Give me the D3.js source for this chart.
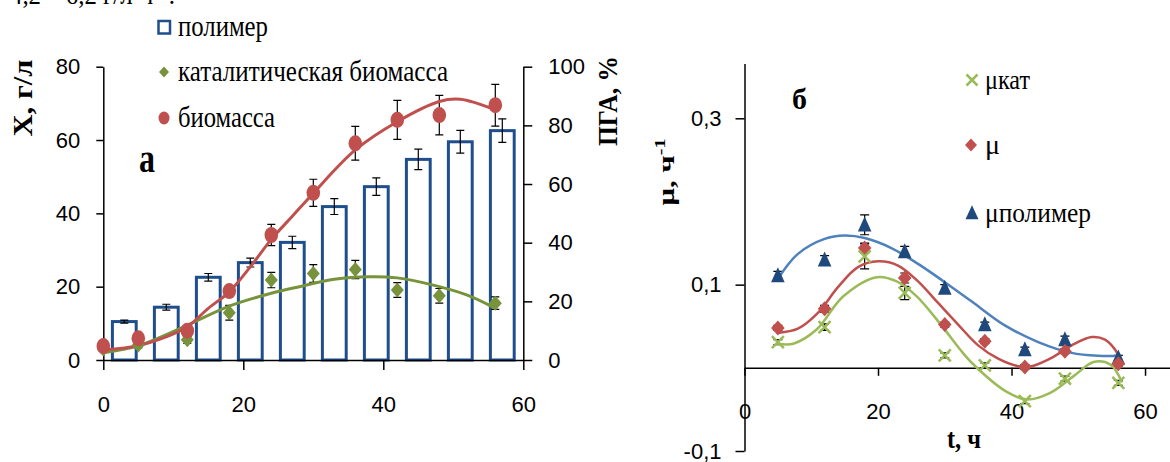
<!DOCTYPE html>
<html>
<head>
<meta charset="utf-8">
<script src="https://cdn.jsdelivr.net/npm/d3@7"></script>
<style>
  body { margin: 0; background: #fff; }
  svg { display: block; }
</style>
</head>
<body>
<script>
// ---- data, chart a (left) ----
const tBio = [0, 5, 12, 18, 24, 30, 36, 42, 48, 56];
const biomass = [3.8, 5.9, 8.0, 18.8, 34.1, 45.6, 59.1, 65.5, 66.8, 69.5];
const biomassErr = [0.8, 0.8, 1.0, 1.5, 2.9, 3.7, 4.6, 5.3, 5.4, 5.7];
const catBiomass = [3.0, 4.1, 5.5, 12.9, 21.8, 23.6, 24.7, 19.1, 17.5, 15.5];
const catBiomassErr = [0.5, 0.8, 1.0, 2.0, 2.1, 2.4, 2.5, 2.0, 2.0, 1.7];
const tPolymer = [3, 9, 15, 21, 27, 33, 39, 45, 51, 57];
const polymer = [13.1, 18.0, 28.2, 33.2, 40.1, 52.3, 59.1, 68.4, 74.4, 78.2];
const polymerErr = [0.5, 1.0, 1.3, 1.5, 2.1, 2.7, 3.0, 3.5, 3.9, 4.0];
// trend lines
const bioTrendT = [0, 5, 8, 12, 15, 18, 21, 24, 27, 30, 36, 42, 48, 51, 56];
const bioTrend = [2.7, 3.9, 5.6, 9.1, 14.1, 18.6, 25.4, 32.9, 39.2, 45.5, 57.3, 65.0, 70.5, 71.1, 68.2];
const catTrendT = [0, 5, 11, 18, 24, 28, 33, 38, 42, 47, 52, 56];
const catTrend = [2.0, 3.9, 8.6, 14.7, 18.2, 20.0, 22.0, 22.7, 22.4, 20.5, 17.7, 14.1];
const xTicksA = [0, 20, 40, 60];
const yTicksA = [0, 20, 40, 60, 80];
const yTicksPGA = [0, 20, 40, 60, 80, 100];
const legendA = ["полимер", "каталитическая биомасса", "биомасса"];

// ---- data, chart б (right) ----
const tMu = [5, 12, 18, 24, 30, 36, 42, 48, 56];
const muKat = [0.031, 0.049, 0.134, 0.090, 0.015, 0.003, -0.040, -0.013, -0.018];
const muKatErr = [0.003, 0.004, 0.015, 0.008, 0.003, 0.003, 0.003, 0.003, 0.003];
const mu = [0.048, 0.071, 0.144, 0.108, 0.052, 0.032, 0.001, 0.020, 0.005];
const muErr = [0.003, 0.004, 0.006, 0.006, 0.003, 0.003, 0.003, 0.003, 0.003];
const muPol = [0.111, 0.130, 0.172, 0.140, 0.096, 0.052, 0.022, 0.034, 0.012];
const muPolErr = [0.005, 0.005, 0.012, 0.006, 0.004, 0.003, 0.003, 0.004, 0.003];
const muPolTrendT = [5, 8, 12, 15, 18, 22, 26, 30, 34, 39, 44, 49, 53, 56.3];
const muPolTrend = [0.107, 0.137, 0.155, 0.159, 0.156, 0.144, 0.125, 0.103, 0.080, 0.051, 0.031, 0.018, 0.0145, 0.0145];
const muTrendT = [5, 8, 11, 14, 17, 20, 23, 26, 29, 32, 35, 38, 41, 43, 46, 49, 52, 54, 55.5, 56.5];
const muTrend = [0.042, 0.047, 0.066, 0.097, 0.121, 0.128, 0.123, 0.104, 0.078, 0.052, 0.027, 0.011, 0.002, 0.002, 0.012, 0.027, 0.037, 0.034, 0.022, 0.005];
const muKatTrendT = [5, 7.3, 10.8, 14.8, 19.8, 22.8, 25.8, 29.5, 32.3, 34.3, 39.3, 42.3, 45.8, 49.3, 52.3, 54.8, 56.5];
const muKatTrend = [0.029, 0.029, 0.046, 0.086, 0.109, 0.104, 0.086, 0.051, 0.022, 0.004, -0.029, -0.038, -0.030, -0.010, 0.007, 0.004, -0.0165];
const xTicksB = [0, 20, 40, 60];
const yTicksB = [-0.1, 0.1, 0.3];
const legendB = ["μкат", "μ", "μполимер"];

const blueDark = "#1f4e8c", redC = "#c0504d", olive = "#77933c";
const lightGreen = "#9bbb59", lightBlue = "#4f81bd", triBlue = "#1f497d";
const numFont = "'Liberation Sans', Arial, sans-serif";
const serif = "'Liberation Serif', 'Times New Roman', serif";

const svg = d3.select("body").append("svg")
  .attr("width", 1170).attr("height", 462);
svg.append("rect").attr("width", 1170).attr("height", 462).attr("fill", "#fff");

// cut-off line of text at the top of the page
svg.append("text").attr("x", 10).attr("y", 4)
  .attr("font-family", serif).attr("font-size", 28)
  .attr("textLength", 165).attr("lengthAdjust", "spacingAndGlyphs")
  .text("4,2 – 6,2 г/л·ч⁻¹.");

function diamond(hw, hh) { return `M0,${-hh}L${hw},0L0,${hh}L${-hw},0Z`; }
function cross(r) { return `M${-r},${-r}L${r},${r}M${-r},${r}L${r},${-r}`; }
function triangle(hw, hh) { return `M0,${-hh * 1.1}L${hw},${hh * 0.9}L${-hw},${hh * 0.9}Z`; }

function styleAxis(g, size) {
  g.selectAll("path, line").attr("stroke", "#000").attr("stroke-width", 1.5);
  g.selectAll("text").attr("font-family", numFont).attr("font-size", size).attr("fill", "#000");
}

function errBars(g, xs, ys, errs, x, y, cap) {
  const d = xs.map((t, i) => ({ t: t, v: ys[i], e: errs[i] }));
  const eg = g.append("g").attr("stroke", "#000").attr("stroke-width", 1.2);
  eg.selectAll("path").data(d).enter().append("path")
    .attr("fill", "none")
    .attr("d", p => {
      const cx = x(p.t), y1 = y(p.v + p.e), y2 = y(p.v - p.e);
      return `M${cx},${y1}L${cx},${y2}M${cx - cap},${y1}L${cx + cap},${y1}M${cx - cap},${y2}L${cx + cap},${y2}`;
    });
}

function trend(g, ts, vs, x, y, color, w) {
  const line = d3.line().x(d => x(d[0])).y(d => y(d[1])).curve(d3.curveCatmullRom.alpha(0.5));
  g.append("path").datum(ts.map((t, i) => [t, vs[i]]))
    .attr("fill", "none").attr("stroke", color).attr("stroke-width", w)
    .attr("stroke-linecap", "round").attr("d", line);
}

// ================= chart a =================
const xA = d3.scaleLinear().domain([0, 60]).range([103.3, 523.3]);
const yA = d3.scaleLinear().domain([0, 80]).range([360, 66.7]);
const yP = d3.scaleLinear().domain([0, 100]).range([360, 66.7]);
const gA = svg.append("g");

// bars (polymer, right axis)
const barW = 3.4;
gA.append("g").selectAll("rect").data(tPolymer).enter().append("rect")
  .attr("x", (t) => xA(t - barW / 2))
  .attr("y", (t, i) => yP(polymer[i]))
  .attr("width", xA(barW) - xA(0))
  .attr("height", (t, i) => yP(0) - yP(polymer[i]))
  .attr("fill", "#fff").attr("stroke", blueDark).attr("stroke-width", 3);
errBars(gA, tPolymer, polymer, polymerErr, xA, yP, 4);

// axes
gA.append("g").attr("transform", "translate(0,360)")
  .call(d3.axisBottom(xA).tickValues(xTicksA).tickSize(10).tickSizeOuter(0).tickPadding(26))
  .call(g => styleAxis(g, 22));
gA.append("g").attr("transform", "translate(103.3,0)")
  .call(d3.axisLeft(yA).tickValues(yTicksA).tickSize(7).tickSizeOuter(0).tickPadding(16))
  .call(g => styleAxis(g, 22));
gA.append("g").attr("transform", "translate(523.3,0)")
  .call(d3.axisRight(yP).tickValues(yTicksPGA).tickSize(9).tickSizeOuter(0).tickPadding(16))
  .call(g => styleAxis(g, 22));

// error bars, trend lines, markers
errBars(gA, tBio, catBiomass, catBiomassErr, xA, yA, 4);
errBars(gA, tBio, biomass, biomassErr, xA, yA, 4);
trend(gA, catTrendT, catTrend, xA, yA, olive, 3);
trend(gA, bioTrendT, bioTrend, xA, yA, redC, 3);
gA.append("g").selectAll("path").data(tBio).enter().append("path")
  .attr("transform", (t, i) => `translate(${xA(t)},${yA(catBiomass[i])})`)
  .attr("d", diamond(6.5, 7.5)).attr("fill", olive);
gA.append("g").selectAll("ellipse").data(tBio).enter().append("ellipse")
  .attr("cx", t => xA(t)).attr("cy", (t, i) => yA(biomass[i]))
  .attr("rx", 6.8).attr("ry", 8).attr("fill", redC);

// legend a
const legAy = [27, 72, 118];
const legAlen = [90, 270, 97];
gA.append("rect").attr("x", 158.5).attr("y", 21).attr("width", 11.5).attr("height", 12.5)
  .attr("fill", "#fff").attr("stroke", blueDark).attr("stroke-width", 2.5);
gA.append("path").attr("transform", `translate(164,${legAy[1]})`).attr("d", diamond(5, 5.5)).attr("fill", olive);
gA.append("ellipse").attr("cx", 164).attr("cy", legAy[2]).attr("rx", 5.5).attr("ry", 6.5).attr("fill", redC);
gA.selectAll("text.leg").data(legendA).enter().append("text").attr("class", "leg")
  .attr("x", 178).attr("y", (d, i) => legAy[i] + 9)
  .attr("font-family", serif).attr("font-size", 30)
  .attr("textLength", (d, i) => legAlen[i]).attr("lengthAdjust", "spacingAndGlyphs")
  .text(d => d);

// labels a
gA.append("text").attr("transform", "translate(32,98) rotate(-90)")
  .attr("text-anchor", "middle").attr("font-family", serif).attr("font-weight", "bold")
  .attr("font-size", 28).attr("textLength", 77).attr("lengthAdjust", "spacingAndGlyphs")
  .text("X, г/л");
gA.append("text").attr("transform", "translate(617,101) rotate(-90)")
  .attr("text-anchor", "middle").attr("font-family", serif).attr("font-weight", "bold")
  .attr("font-size", 28).attr("textLength", 90).attr("lengthAdjust", "spacingAndGlyphs")
  .text("ПГА, %");
gA.append("text").attr("x", 139).attr("y", 172)
  .attr("font-family", serif).attr("font-weight", "bold").attr("font-size", 40)
  .attr("textLength", 16).attr("lengthAdjust", "spacingAndGlyphs").text("а");

// ================= chart б =================
const xB = d3.scaleLinear().domain([0, 63.8]).range([744.5, 1170.4]);
const yB = d3.scaleLinear().domain([-0.1, 0.366]).range([451, 63.4]);
const gB = svg.append("g");
const fmt = d => String(d).replace(".", ",");

gB.append("g").attr("transform", `translate(0,${yB(0)})`)
  .call(d3.axisBottom(xB).tickValues(xTicksB).tickSize(8).tickSizeOuter(0).tickPadding(28))
  .call(g => styleAxis(g, 22));
gB.append("g").attr("transform", "translate(744.5,0)")
  .call(d3.axisLeft(yB).tickValues(yTicksB).tickFormat(fmt).tickSize(9).tickSizeOuter(0).tickPadding(14))
  .call(g => styleAxis(g, 22));

errBars(gB, tMu, muPol, muPolErr, xB, yB, 4.5);
errBars(gB, tMu, mu, muErr, xB, yB, 4.5);
errBars(gB, tMu, muKat, muKatErr, xB, yB, 4.5);
trend(gB, muPolTrendT, muPolTrend, xB, yB, lightBlue, 2.5);
trend(gB, muTrendT, muTrend, xB, yB, redC, 2.5);
trend(gB, muKatTrendT, muKatTrend, xB, yB, lightGreen, 2.5);

gB.append("g").selectAll("path").data(tMu).enter().append("path")
  .attr("transform", (t, i) => `translate(${xB(t)},${yB(muPol[i])})`)
  .attr("d", triangle(6.8, 7.5)).attr("fill", triBlue);
gB.append("g").selectAll("path").data(tMu).enter().append("path")
  .attr("transform", (t, i) => `translate(${xB(t)},${yB(mu[i])})`)
  .attr("d", diamond(6.8, 7.5)).attr("fill", redC);
gB.append("g").selectAll("path").data(tMu).enter().append("path")
  .attr("transform", (t, i) => `translate(${xB(t)},${yB(muKat[i])})`)
  .attr("d", cross(6)).attr("fill", "none").attr("stroke", lightGreen).attr("stroke-width", 2.5);

// legend б
const legBy = [80, 145, 213];
const legBlen = [45, 15, 106];
gB.append("path").attr("transform", `translate(972,${legBy[0]})`).attr("d", cross(5.5))
  .attr("stroke", lightGreen).attr("stroke-width", 2.5).attr("fill", "none");
gB.append("path").attr("transform", `translate(971,${legBy[1]})`).attr("d", diamond(6, 6.5)).attr("fill", redC);
gB.append("path").attr("transform", `translate(972,${legBy[2]})`).attr("d", triangle(6.5, 7)).attr("fill", triBlue);
gB.selectAll("text.leg").data(legendB).enter().append("text").attr("class", "leg")
  .attr("x", 985).attr("y", (d, i) => legBy[i] + 9)
  .attr("font-family", serif).attr("font-size", 27)
  .attr("textLength", (d, i) => legBlen[i]).attr("lengthAdjust", "spacingAndGlyphs")
  .text(d => d);

// labels б
const muLab = gB.append("text").attr("transform", "translate(674,172) rotate(-90)")
  .attr("text-anchor", "middle").attr("font-family", serif).attr("font-weight", "bold")
  .attr("font-size", 23).attr("textLength", 67).attr("lengthAdjust", "spacingAndGlyphs");
muLab.append("tspan").text("μ,  ч");
muLab.append("tspan").attr("dy", -9).attr("font-size", 15).text("-1");
gB.append("text").attr("x", 792).attr("y", 109)
  .attr("font-family", serif).attr("font-weight", "bold").attr("font-size", 30)
  .attr("textLength", 15).attr("lengthAdjust", "spacingAndGlyphs").text("б");
gB.append("text").attr("x", 947).attr("y", 448)
  .attr("font-family", serif).attr("font-weight", "bold").attr("font-size", 28)
  .attr("textLength", 34).attr("lengthAdjust", "spacingAndGlyphs").text("t, ч");
</script>
</body>
</html>
